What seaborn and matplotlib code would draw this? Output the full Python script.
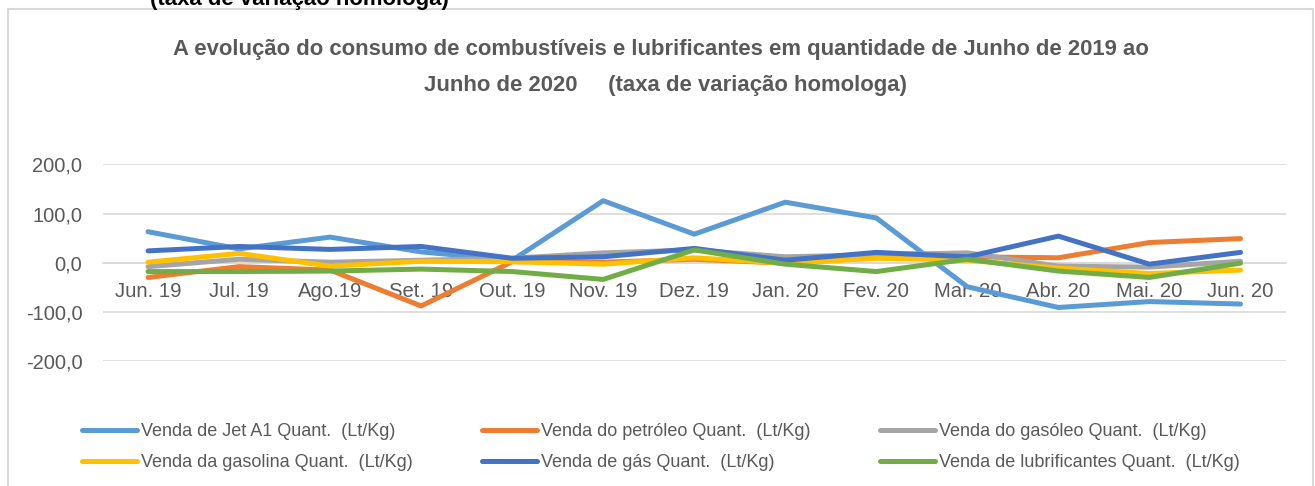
import matplotlib
matplotlib.use("Agg")
import matplotlib.pyplot as plt
import seaborn as sns
import pandas as pd
from matplotlib import font_manager
from matplotlib.patches import Rectangle

# ---------------- data ----------------
meses = ["Jun. 19", "Jul. 19", "Ago.19", "Set. 19", "Out. 19", "Nov. 19", "Dez. 19",
         "Jan. 20", "Fev. 20", "Mar. 20", "Abr. 20", "Mai. 20", "Jun. 20"]

jet_a1 = [63, 28, 52, 22, 5, 126, 58, 123, 91, -49, -91, -79, -84]
petroleo = [-30, -8, -15, -88, 2, 1, 7, -1, 10, 12, 10, 41, 49]
gasoleo = [-8, 7, 1, 5, 9, 20, 26, 12, 16, 20, -7, -9, 3]
gasolina = [1, 19, -7, 3, 2, -3, 10, -1, 9, 5, -11, -22, -15]
gas = [24, 33, 27, 33, 9, 12, 29, 5, 21, 12, 54, -3, 21]
lubrificantes = [-18, -18, -17, -13, -18, -34, 26, -3, -18, 7, -17, -30, -1]

series_nomes = ["Venda de Jet A1 Quant.  (Lt/Kg)",
                "Venda do petróleo Quant.  (Lt/Kg)",
                "Venda do gasóleo Quant.  (Lt/Kg)",
                "Venda da gasolina Quant.  (Lt/Kg)",
                "Venda de gás Quant.  (Lt/Kg)",
                "Venda de lubrificantes Quant.  (Lt/Kg)"]
series_valores = [jet_a1, petroleo, gasoleo, gasolina, gas, lubrificantes]
cores = ["#5B9BD5", "#ED7D31", "#A5A5A5", "#FFC000", "#4472C4", "#70AD47"]

y_ticks = [-200, -100, 0, 100, 200]
y_tick_labels = ["-200,0", "-100,0", "0,0", "100,0", "200,0"]

titulo_l1 = "A evolução do consumo de combustíveis e lubrificantes em quantidade de Junho de 2019 ao"
titulo_l2 = "Junho de 2020     (taxa de variação homologa)"
texto_cortado = "(taxa de variação homologa)"

rows = []
for nome, vals in zip(series_nomes, series_valores):
    for i, v in enumerate(vals):
        rows.append({"serie": nome, "idx": i, "valor": v})
df = pd.DataFrame(rows)

# ---------------- style ----------------
sns.set_theme(style="white")
names = {f.name for f in font_manager.fontManager.ttflist}
narrow = "Liberation Sans Narrow" in names
base_font = "Liberation Sans Narrow" if narrow else "Liberation Sans"
k = 1.0 if narrow else 0.84
plt.rcParams["font.family"] = [base_font, "DejaVu Sans"]

txt = "#595959"
grid = "#D9D9D9"
W, H = 1315, 486

fig = plt.figure(figsize=(W / 100, H / 100), dpi=100)
fig.patch.set_facecolor("white")

ax_l, ax_r, ax_t, ax_b = 102.5, 1286, 164.3, 361.1
ax = fig.add_axes([ax_l / W, 1 - ax_b / H, (ax_r - ax_l) / W, (ax_b - ax_t) / H])

sns.lineplot(data=df, x="idx", y="valor", hue="serie", hue_order=series_nomes,
             palette=cores, linewidth=3.6, sort=False, ax=ax, legend=True,
             solid_capstyle="round")

handles, labels = ax.get_legend_handles_labels()
ax.get_legend().remove()

ax.set_xlim(-0.5, len(meses) - 0.5)
ax.set_ylim(-200, 200)
ax.set_yticks(y_ticks)
ax.set_yticklabels(y_tick_labels)
ax.set_xticks(range(len(meses)))
ax.set_xticklabels(meses)
ax.set_xlabel("")
ax.set_ylabel("")

ax.grid(False)
for yv in y_ticks:
    ax.axhline(yv, color=grid, lw=1.2, zorder=0)

for s in ["top", "right", "left"]:
    ax.spines[s].set_visible(False)
ax.spines["bottom"].set_position(("data", 0))
ax.spines["bottom"].set_color(grid)
ax.spines["bottom"].set_linewidth(1.2)
ax.spines["bottom"].set_zorder(0)

ax.tick_params(axis="x", length=0, pad=14, labelsize=17.4 * k, labelcolor=txt)
ax.tick_params(axis="y", length=0, pad=14.5, labelsize=17.3 * k, labelcolor=txt)
ax.set_facecolor("none")

# legend: Excel order row-wise -> reorder for column-filling
leg_fs = 15.4 * k
leg_px = leg_fs * 100 / 72
order = [0, 3, 1, 4, 2, 5]
leg = fig.legend([handles[i] for i in order], [labels[i] for i in order],
                 loc="upper left", bbox_to_anchor=(82 / W, 1 - 423 / H),
                 ncol=3, frameon=False, borderpad=0, borderaxespad=0,
                 fontsize=leg_fs, handlelength=55 / leg_px, handletextpad=4 / leg_px,
                 columnspacing=3.85, labelspacing=0.8, labelcolor=txt)
for lh in leg.get_lines():
    lh.set_linewidth(3.6)
    lh.set_solid_capstyle("round")

# title
title_fs = 19.0 * k
fig.text(661 / W, 1 - 55 / H, titulo_l1, ha="center", va="baseline",
         fontsize=title_fs, fontweight="bold", color=txt)
fig.text(665 / W, 1 - 91 / H, titulo_l2, ha="center", va="baseline",
         fontsize=title_fs, fontweight="bold", color=txt)

# cut-off text above chart border (as in the reference)
fig.text(299 / W, 1 - 5 / H, texto_cortado, ha="center", va="baseline",
         fontsize=19 * k, fontweight="bold", color="black")

# chart outer border
fig.add_artist(Rectangle((7.5 / W, -0.05), (1313 - 7.5) / W, 1.05 - 9 / H,
                         transform=fig.transFigure, fill=False,
                         edgecolor=grid, linewidth=1.5))

fig.savefig("out.png", dpi=100, facecolor="white")
